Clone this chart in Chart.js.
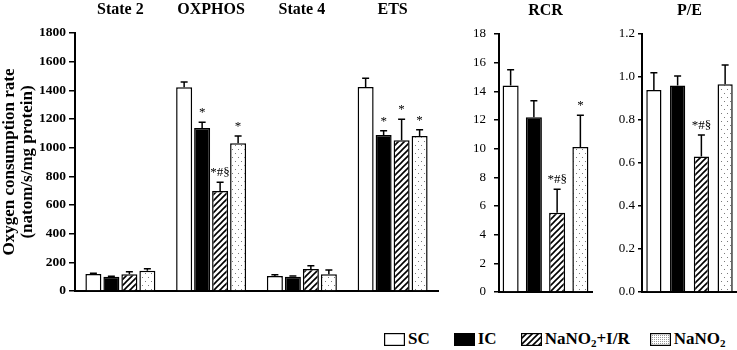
<!DOCTYPE html>
<html>
<head>
<meta charset="utf-8">
<script src="https://cdn.jsdelivr.net/npm/chart.js@4.4.1/dist/chart.umd.min.js"></script>
<style>
  html, body { margin: 0; padding: 0; background: #fff; }
  #wrap { position: relative; width: 737px; height: 350px; overflow: hidden;
          font-family: 'Liberation Serif', 'Times New Roman', serif; }
  #wrap canvas.chart { position: absolute; top: 0; }
  #legend { position: absolute; left: 384px; top: 330px; height: 18px; display: flex;
            align-items: center; font-weight: bold; font-size: 17px; line-height: 18px; white-space: nowrap; }
  #legend .item { display: flex; align-items: center; margin-right: 24px; }
  #legend .item:nth-child(3) { margin-right: 20px; }
  #legend .sw { margin-right: 3px; }
  #legend sub { font-size: 11px; vertical-align: -3px; line-height: 0; }
</style>
</head>
<body>
<div id="wrap">
  <canvas id="rateChart" class="chart" width="440" height="300" style="left:0"></canvas>
  <canvas id="rcrChart" class="chart" width="160" height="300" style="left:440px"></canvas>
  <canvas id="peChart" class="chart" width="137" height="300" style="left:600px"></canvas>
  <div id="legend"></div>
</div>
<script>
// data block
const states = ['State 2', 'OXPHOS', 'State 4', 'ETS'];
const groups = ['SC', 'IC', 'NaNO2+I/R', 'NaNO2'];
const legendLabels = ['SC', 'IC', 'NaNO<sub>2</sub>+I/R', 'NaNO<sub>2</sub>'];

// oxygen consumption rate (natom/s/mg protein), one value per state
const rateSC  = [119, 1421, 105, 1424];
const rateIC  = [100, 1137, 100, 1088];
const rateIR  = [116, 698, 153, 1051];
const rateNit = [142, 1030, 116, 1082];
const errSC  = [5, 37, 8, 60];
const errIC  = [3, 40, 5, 30];
const errIR  = [19, 60, 24, 147];
const errNit = [13, 52, 30, 43];
const marksSC  = ['', '', '', ''];
const marksIC  = ['', '*', '', '*'];
const marksIR  = ['', '*#§', '', '*'];
const marksNit = ['', '*', '', '*'];

// RCR and P/E, one value per group
const rcrValues = [14.4, 12.2, 5.53, 10.12];
const rcrErrors = [1.1, 1.15, 1.64, 2.21];
const rcrMarks  = ['', '', '*#§', '*'];
const peValues  = [0.94, 0.96, 0.63, 0.966];
const peErrors  = [0.08, 0.045, 0.1, 0.09];
const peMarks   = ['', '', '*#§', ''];

const serif = "'Liberation Serif', 'Times New Roman', serif";

// fill patterns
const makeTile = (w, h, draw) => {
    const c = document.createElement('canvas');
    c.width = w;
    c.height = h;
    const g = c.getContext('2d');
    g.fillStyle = '#fff';
    g.fillRect(0, 0, w, h);
    draw(g);
    return g.createPattern(c, 'repeat');
};

const hatch = makeTile(6, 6, g => {
    g.strokeStyle = '#000';
    g.lineWidth = 1.6;
    g.beginPath();
    g.moveTo(-1, 7); g.lineTo(7, -1);
    g.moveTo(-1, 1); g.lineTo(1, -1);
    g.moveTo(5, 7); g.lineTo(7, 5);
    g.stroke();
});

const dots = makeTile(6, 8, g => {
    g.fillStyle = '#7a7a7a';
    g.fillRect(1, 1, 1, 1);
    g.fillRect(4, 5, 1, 1);
});

const denseDots = makeTile(2, 2, g => {
    g.fillStyle = '#9a9a9a';
    g.fillRect(0, 0, 1, 1);
});

const fills = ['#fff', '#000', hatch, dots];

// error bars + significance marks
const errorBars = {
    id: 'errorBars',
    afterDatasetsDraw(chart) {
        const { ctx, scales: { y } } = chart;
        ctx.save();
        chart.data.datasets.forEach((ds, i) => {
            const meta = chart.getDatasetMeta(i);
            meta.data.forEach((bar, j) => {
                const top = y.getPixelForValue(ds.data[j] + ds.errors[j]);
                ctx.strokeStyle = '#000';
                ctx.lineWidth = 1.5;
                ctx.beginPath();
                ctx.moveTo(bar.x, bar.y);
                ctx.lineTo(bar.x, top);
                ctx.moveTo(bar.x - 3.5, top);
                ctx.lineTo(bar.x + 3.5, top);
                ctx.stroke();

                const mark = ds.marks[j];
                if (mark) {
                    ctx.fillStyle = '#000';
                    ctx.font = '13px ' + serif;
                    ctx.textAlign = 'center';
                    ctx.textBaseline = 'alphabetic';
                    ctx.fillText(mark, bar.x, top - 6);
                }
            });
        });
        ctx.restore();
    }
};

const makeDataset = (label, data, errors, marks, fill, catPct, barPct) => ({
    label: label,
    data: data,
    errors: errors,
    marks: marks,
    backgroundColor: fill,
    borderColor: '#000',
    borderWidth: 1.5,
    categoryPercentage: catPct,
    barPercentage: barPct
});

const makeOptions = (opt) => ({
    responsive: false,
    animation: false,
    layout: { padding: { left: 0, right: opt.padRight, top: 0, bottom: 0 } },
    plugins: { legend: { display: false }, tooltip: { enabled: false } },
    scales: {
        x: {
            position: 'bottom',
            grid: { display: true, drawOnChartArea: false, drawTicks: false },
            border: { display: true, color: '#000', width: 2 },
            ticks: { display: false },
            afterFit: s => { s.height = opt.bottomH; }
        },
        x2: {
            type: 'category',
            position: 'top',
            offset: true,
            labels: opt.titles,
            grid: { display: false, drawTicks: false },
            border: { display: false },
            ticks: { color: '#000', padding: 14, font: { family: serif, size: 16, weight: 'bold' } },
            afterFit: s => { s.height = opt.topH; }
        },
        y: {
            min: 0,
            max: opt.max,
            ticks: {
                stepSize: opt.step,
                color: '#000',
                padding: opt.tickPad,
                font: { family: serif, size: opt.tickSize, weight: opt.tickWeight },
                callback: v => opt.fmt(v)
            },
            grid: { drawOnChartArea: false, drawTicks: true, tickLength: opt.tickLen, color: '#000', lineWidth: 1.5 },
            border: { display: true, color: '#000', width: 2 },
            title: opt.yTitle,
            afterFit: s => {
                s.width = opt.yWidth;
                s.paddingTop = 0;
                s.paddingBottom = 0;
            }
        }
    }
});

// left chart: oxygen consumption rate
new Chart(document.getElementById('rateChart'), {
    type: 'bar',
    data: {
        labels: states,
        datasets: [
            makeDataset(groups[0], rateSC, errSC, marksSC, fills[0], 0.793, 0.89),
            makeDataset(groups[1], rateIC, errIC, marksIC, fills[1], 0.793, 0.89),
            makeDataset(groups[2], rateIR, errIR, marksIR, fills[2], 0.793, 0.89),
            makeDataset(groups[3], rateNit, errNit, marksNit, fills[3], 0.793, 0.89)
        ]
    },
    options: makeOptions({
        padRight: 2, bottomH: 9, topH: 33, titles: states,
        max: 1800, step: 200, tickPad: 3, tickLen: 6, tickSize: 13.5, tickWeight: 'bold',
        fmt: v => String(v), yWidth: 75,
        yTitle: {
            display: true,
            text: ['Oxygen consumption rate', '(natom/s/mg protein)'],
            color: '#000',
            padding: { top: 0, bottom: 0 },
            font: { family: serif, size: 17, weight: 'bold', lineHeight: 1.1 }
        }
    }),
    plugins: [errorBars]
});

// RCR
new Chart(document.getElementById('rcrChart'), {
    type: 'bar',
    data: {
        labels: ['RCR'],
        datasets: groups.map((g, k) =>
            makeDataset(g, [rcrValues[k]], [rcrErrors[k]], [rcrMarks[k]], fills[k], 1, 0.69))
    },
    options: makeOptions({
        padRight: 8, bottomH: 8, topH: 34, titles: ['RCR'],
        max: 18, step: 2, tickPad: 8, tickLen: 5, tickSize: 13, tickWeight: 'normal',
        fmt: v => String(v), yWidth: 59,
        yTitle: { display: false }
    }),
    plugins: [errorBars]
});

// P/E
new Chart(document.getElementById('peChart'), {
    type: 'bar',
    data: {
        labels: ['P/E'],
        datasets: groups.map((g, k) =>
            makeDataset(g, [peValues[k]], [peErrors[k]], [peMarks[k]], fills[k], 1, 0.64))
    },
    options: makeOptions({
        padRight: 0, bottomH: 8, topH: 34, titles: ['P/E'],
        max: 1.2, step: 0.2, tickPad: 3, tickLen: 4, tickSize: 13, tickWeight: 'normal',
        fmt: v => v.toFixed(1), yWidth: 42,
        yTitle: { display: false }
    }),
    plugins: [errorBars]
});

// legend
const legend = document.getElementById('legend');
const legendFills = ['#fff', '#000', hatch, denseDots];
legendLabels.forEach((html, k) => {
    const item = document.createElement('span');
    item.className = 'item';
    const sw = document.createElement('canvas');
    sw.className = 'sw';
    sw.width = 21;
    sw.height = 13;
    const g = sw.getContext('2d');
    g.fillStyle = legendFills[k];
    g.fillRect(0, 0, 21, 13);
    g.strokeStyle = '#000';
    g.lineWidth = 1.2;
    g.strokeRect(0.6, 0.6, 19.8, 11.8);
    item.appendChild(sw);
    const txt = document.createElement('span');
    txt.innerHTML = html;
    item.appendChild(txt);
    legend.appendChild(item);
});
</script>
</body>
</html>
